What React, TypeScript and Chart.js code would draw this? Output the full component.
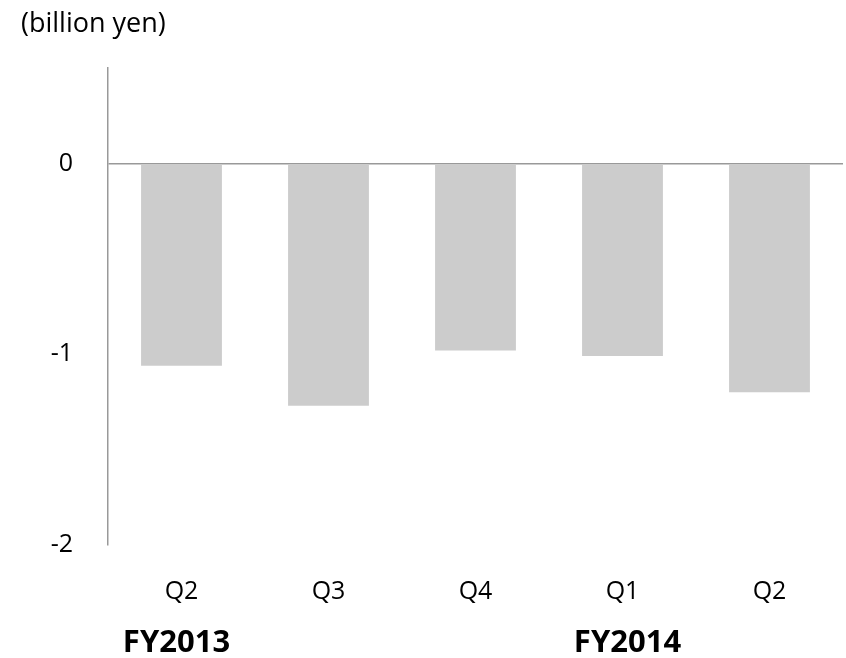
import React, { useEffect, useRef } from "react";
import { Chart, registerables } from "chart.js";

Chart.register(...registerables);

const categories = ["Q2", "Q3", "Q4", "Q1", "Q2"];
const values = [-1.06, -1.27, -0.98, -1.01, -1.2];
const fiscalYears = ["FY2013", "", "", "FY2014", ""];
const yTicks = [-2, -1, 0];
const unitLabel = "(billion yen)";

const FONT = "'Open Sans', sans-serif";

const annotations = {
  id: "annotations",
  afterDraw(chart: any) {
    const ctx = chart.ctx;
    const x = chart.scales.x;
    ctx.save();
    ctx.fillStyle = "#000";
    ctx.font = `27px ${FONT}`;
    ctx.textAlign = "left";
    ctx.textBaseline = "middle";
    ctx.fillText(unitLabel, 21, 24);
    ctx.font = `bold 31px ${FONT}`;
    ctx.textAlign = "center";
    fiscalYears.forEach((fy, i) => {
      if (!fy) return;
      const shift = i === 0 ? -5 : 5;
      ctx.fillText(fy, x.getPixelForValue(i) + shift, 643);
    });
    ctx.restore();
  },
};

export default function App() {
  const ref = useRef<HTMLCanvasElement>(null);
  useEffect(() => {
    document.body.style.margin = "0";
    const chart = new Chart(ref.current!, {
      type: "bar",
      data: {
        labels: categories,
        datasets: [
          {
            data: values,
            backgroundColor: "#cccccc",
            categoryPercentage: 1,
            barPercentage: 0.55,
          },
        ],
      },
      options: {
        animation: false,
        responsive: false,
        layout: { padding: { top: 68, right: 3, left: 0, bottom: 0 } },
        plugins: { legend: { display: false }, tooltip: { enabled: false } },
        scales: {
          x: {
            grid: { display: false },
            border: { display: false },
            ticks: { color: "#000", font: { family: FONT, size: 25 }, padding: 24 },
            afterFit(s: any) {
              s.height = 113;
            },
          },
          y: {
            min: -2,
            max: 0.5,
            afterBuildTicks(s: any) {
              s.ticks = yTicks.map((v) => ({ value: v }));
            },
            grid: {
              drawTicks: false,
              color: (c: any) => (c.tick && c.tick.value === 0 ? "#999999" : "rgba(0,0,0,0)"),
              lineWidth: 1.5,
            },
            border: { display: true, color: "#999999", width: 1.5 },
            ticks: { color: "#000", font: { family: FONT, size: 25 }, padding: 35 },
            afterFit(s: any) {
              s.width = 108;
            },
          },
        },
      },
      plugins: [annotations],
    });
    return () => chart.destroy();
  }, []);
  return <canvas ref={ref} width={846} height={658} style={{ display: "block" }} />;
}
